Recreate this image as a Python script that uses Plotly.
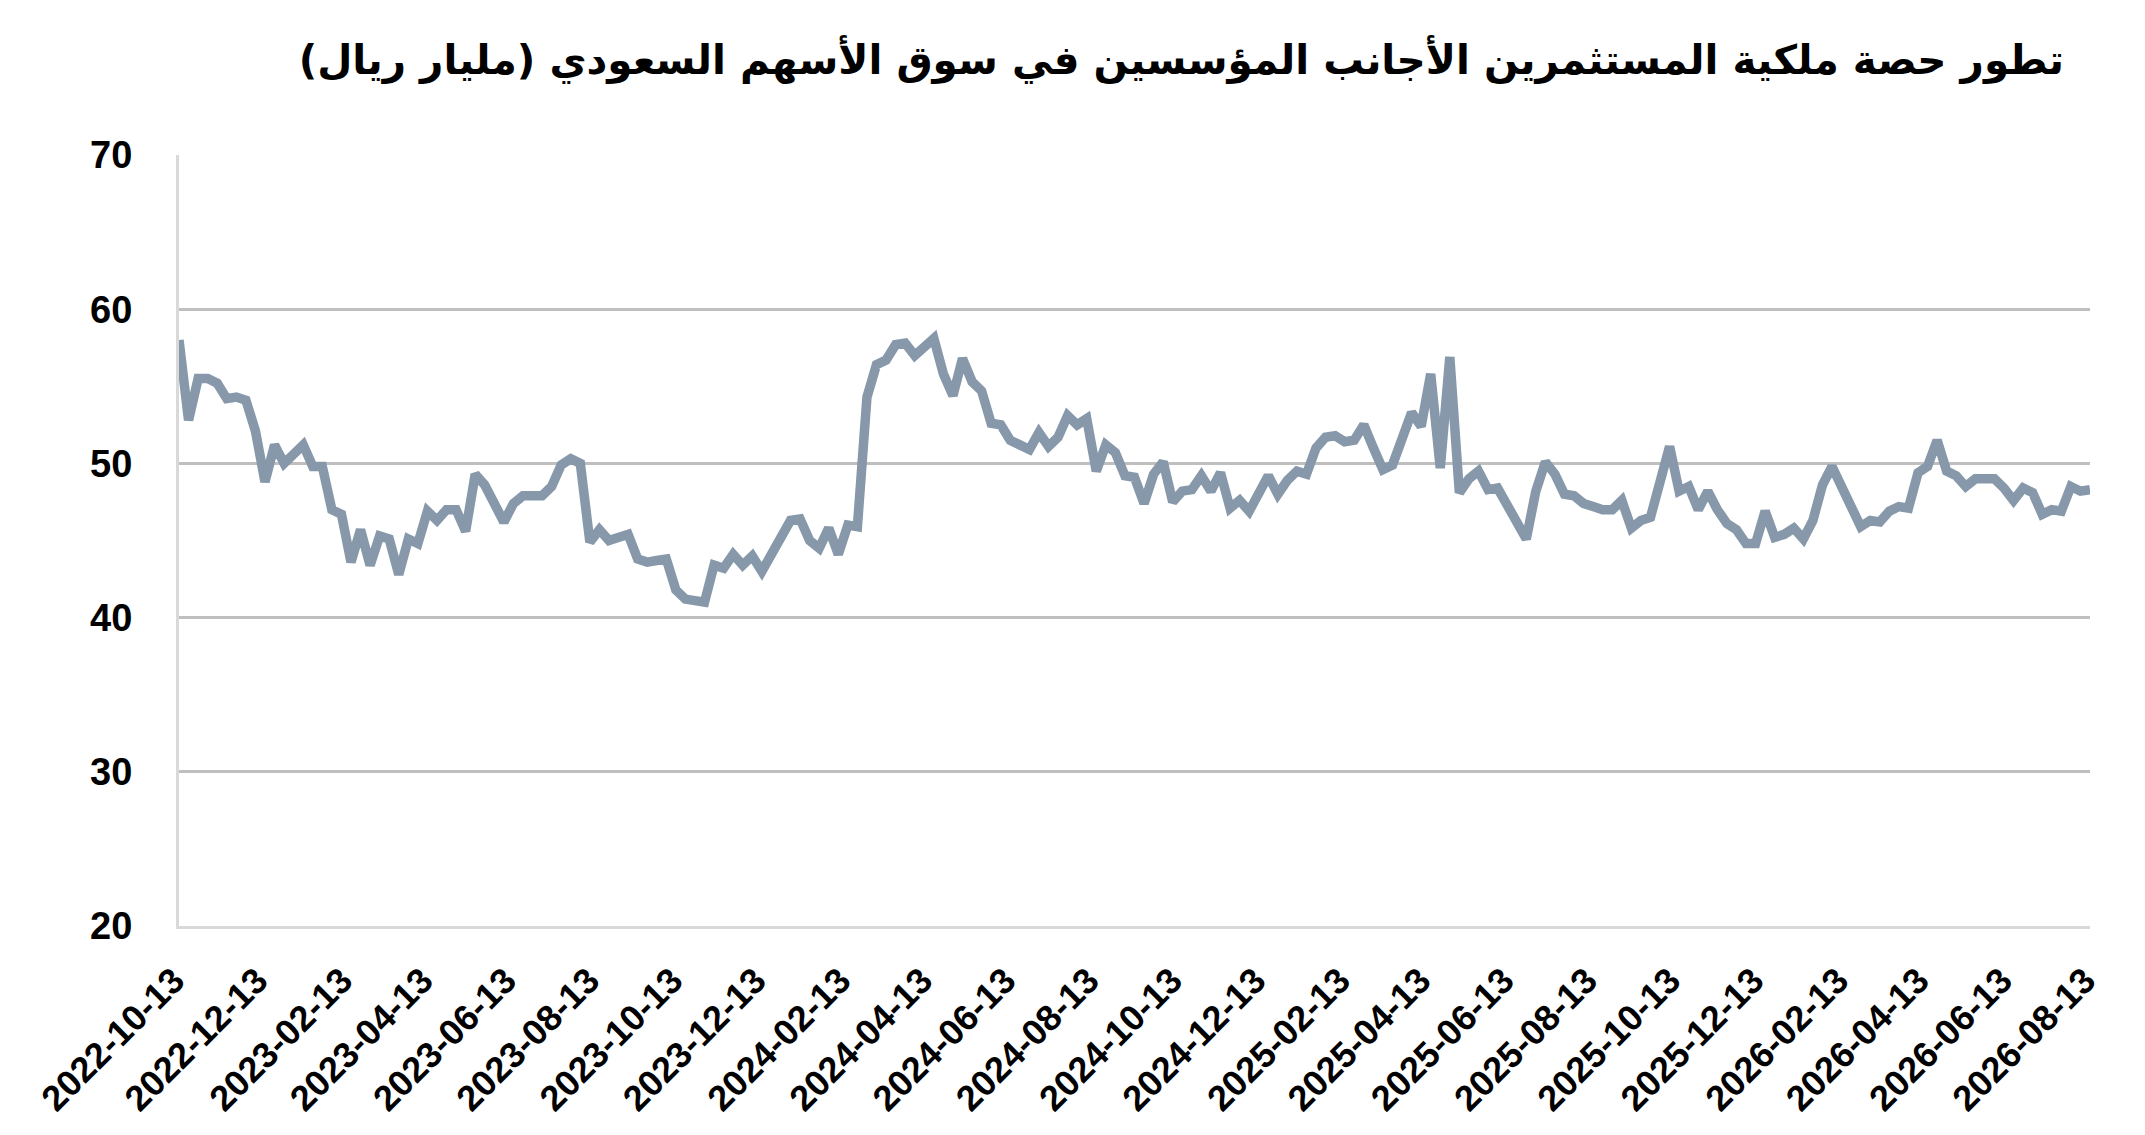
import pandas as pd
import plotly.graph_objects as go

title_text = "تطور حصة ملكية المستثمرين الأجانب المؤسسين في سوق الأسهم السعودي (مليار ريال)"

start_date = "2022-10-13"
end_date = "2026-08-13"
dates = pd.date_range(start_date, end_date, freq="7D")

values = [
    58.0, 52.8, 55.5, 55.5, 55.2, 54.2, 54.3, 54.1, 52.1, 48.8,
    51.2, 50.0, 50.6, 51.2, 49.8, 49.8, 47.0, 46.7, 43.6, 45.7,
    43.4, 45.3, 45.1, 42.8, 45.1, 44.8, 46.9, 46.3, 47.0, 47.0,
    45.6, 49.3, 48.6, 47.4, 46.2, 47.4, 47.9, 47.9, 47.9, 48.5,
    49.9, 50.3, 50.0, 44.9, 45.7, 45.0, 45.2, 45.4, 43.8, 43.6,
    43.7, 43.8, 41.8, 41.2, 41.1, 41.0, 43.4, 43.2, 44.1, 43.4,
    44.0, 43.0, 44.1, 45.2, 46.3, 46.4, 45.0, 44.5, 45.8, 44.1,
    46.0, 45.9, 54.3, 56.4, 56.7, 57.7, 57.8, 57.0, 57.5, 58.1,
    55.8, 54.4, 56.8, 55.3, 54.7, 52.6, 52.5, 51.5, 51.2, 50.9,
    52.0, 51.1, 51.7, 53.1, 52.5, 52.9, 49.5, 51.2, 50.7, 49.2,
    49.1, 47.4, 49.3, 50.1, 47.5, 48.2, 48.3, 49.2, 48.2, 49.4,
    47.1, 47.6, 46.9, 48.1, 49.2, 48.0, 48.9, 49.5, 49.3, 51.0,
    51.7, 51.8, 51.4, 51.5, 52.5, 51.0, 49.6, 49.9, 51.5, 53.3,
    52.4, 55.8, 49.7, 56.9, 48.1, 49.0, 49.5, 48.3, 48.4, 47.2,
    46.2, 45.1, 48.2, 50.1, 49.3, 48.0, 47.9, 47.4, 47.2, 47.0,
    47.0, 47.6, 45.8, 46.3, 46.5, 48.9, 51.1, 48.2, 48.5, 47.0,
    48.2, 47.0, 46.1, 45.7, 44.8, 44.8, 46.9, 45.2, 45.4, 45.8,
    45.1, 46.3, 48.6, 49.8, 48.4, 47.0, 45.9, 46.3, 46.2, 46.9,
    47.2, 47.1, 49.4, 49.8, 51.5, 49.5, 49.2, 48.5, 49.0, 49.0,
    49.0, 48.4, 47.6, 48.4, 48.1, 46.7, 47.0, 46.9, 48.5, 48.2,
    48.3,
]

tick_labels = [
    "2022-10-13", "2022-12-13", "2023-02-13", "2023-04-13", "2023-06-13",
    "2023-08-13", "2023-10-13", "2023-12-13", "2024-02-13", "2024-04-13",
    "2024-06-13", "2024-08-13", "2024-10-13", "2024-12-13", "2025-02-13",
    "2025-04-13", "2025-06-13", "2025-08-13", "2025-10-13", "2025-12-13",
    "2026-02-13", "2026-04-13", "2026-06-13", "2026-08-13",
]
y_ticks = [20, 30, 40, 50, 60, 70]

W, H = 2145, 1135
FONT = "Liberation Sans, Arial, DejaVu Sans, sans-serif"

fig = go.Figure()
fig.add_trace(go.Scatter(
    x=dates, y=values, mode="lines",
    line=dict(color="#8798aa", width=9.5),
    hoverinfo="x+y",
))

fig.update_layout(
    width=W, height=H,
    paper_bgcolor="white", plot_bgcolor="white",
    margin=dict(l=171, r=63, t=147, b=217),
    showlegend=False,
    title=dict(
        text=title_text,
        xref="container", yref="container",
        x=2056 / W, xanchor="right",
        y=1 - 52 / H, yanchor="middle",
        font=dict(family="DejaVu Sans, Liberation Sans, sans-serif", size=40.5, color="black", weight="bold"),
    ),
)

fig.update_xaxes(
    type="date",
    range=[start_date, end_date],
    tickmode="array",
    tickvals=tick_labels,
    ticktext=tick_labels,
    tickangle=-45,
    tickfont=dict(family=FONT, size=36, color="black", weight="bold"),
    showgrid=False,
    showline=True, linecolor="#d9d9d9", linewidth=3,
    zeroline=False,
    ticks="",
    ticklabelstandoff=16,
    ticklabelshift=-5,
)

fig.update_yaxes(
    range=[20, 70],
    tickmode="array",
    tickvals=y_ticks,
    ticktext=[str(v) for v in y_ticks],
    tickfont=dict(family=FONT, size=38, color="black", weight="bold"),
    showgrid=True, gridcolor="#bfbfbf", gridwidth=3,
    zeroline=False,
    showline=True, linecolor="#d9d9d9", linewidth=3,
    ticks="",
    ticklabelstandoff=36,
)

fig.write_html("out.html")
